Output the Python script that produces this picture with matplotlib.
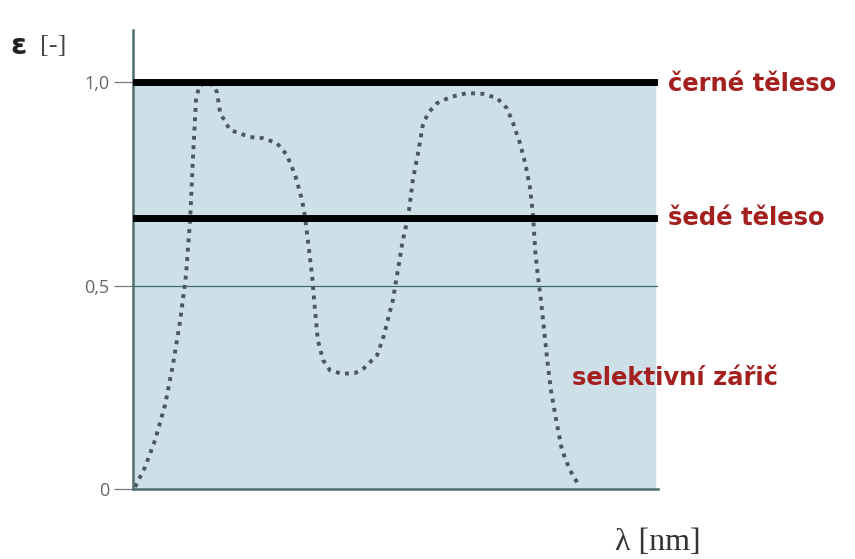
import matplotlib
matplotlib.use("Agg")
import matplotlib.pyplot as plt

# selective emitter curve (lambda in arbitrary units, epsilon)
lam = [0.4, 2.3, 4.2, 6.1, 7.6, 9.0, 10.1, 10.9, 11.4, 12.0, 12.6, 14.1, 15.4,
       16.0, 16.6, 18.5, 22.3, 24.8, 27.4, 29.3, 30.9, 32.2, 32.8,
       34.1, 34.5, 35.2, 36.2, 37.5, 39.8, 42.3, 44.0, 46.5, 47.8, 49.5, 50.3,
       51.4, 52.4, 53.3, 54.3, 55.2, 56.2, 57.9, 60.4, 63.6, 66.7, 69.3, 71.2,
       72.4, 73.7, 74.7, 75.6, 76.2, 76.6, 77.1, 77.7, 78.3, 78.9, 79.6, 80.6,
       81.7, 83.2, 85.1]
eps = [0.005, 0.054, 0.120, 0.206, 0.305, 0.415, 0.526, 0.666, 0.808, 0.956, 0.99, 1.0, 0.99,
       0.975, 0.924, 0.882, 0.865, 0.862, 0.850, 0.821, 0.771, 0.710, 0.666,
       0.526, 0.464, 0.366, 0.317, 0.292, 0.283, 0.285, 0.297, 0.329, 0.378, 0.464, 0.526,
       0.612, 0.668, 0.759, 0.826, 0.894, 0.924, 0.948, 0.963, 0.973, 0.971, 0.961, 0.936,
       0.899, 0.850, 0.801, 0.742, 0.673, 0.587, 0.526, 0.464, 0.391, 0.317, 0.243, 0.170,
       0.096, 0.047, 0.005]

black_eps = 1.0
grey_eps = 0.666
yticks = [0, 0.5, 1.0]
ylabels = ["0", "0,5", "1,0"]

fig = plt.figure(figsize=(8.55, 5.59), dpi=100)
ax = fig.add_axes([133 / 855, 70 / 559, 525 / 855, 459 / 559])
ax.set_xlim(0, 100)
ax.set_ylim(0, 1.128)

ax.axhspan(0, black_eps, xmax=0.994, color="#cde0e8", zorder=0)
ax.axhline(0.5, color="#3f6a72", lw=0.9, zorder=1)
ax.plot(lam, eps, color="#4c5663", lw=2.8, linestyle=(0, (1.0, 1.4)), zorder=2)
ax.axhline(black_eps, color="black", lw=5, solid_capstyle="round", zorder=3)
ax.axhline(grey_eps, color="black", lw=5, solid_capstyle="round", zorder=3)

for s in ["top", "right"]:
    ax.spines[s].set_visible(False)
for s in ["left", "bottom"]:
    ax.spines[s].set_color("#4f6d72")
    ax.spines[s].set_linewidth(1.8)

ax.set_xticks([])
ax.set_yticks(yticks)
ax.set_yticklabels(ylabels, fontsize=13, color="#666666", family="Open Sans")
ax.tick_params(axis="y", length=14, width=0.9, color="#777777", pad=3)

red = "#a3201f"
lab = dict(fontsize=17.5, fontweight="bold", color=red, va="center", ha="left",
           family="DejaVu Sans")
fig.text(668 / 855, 1 - 84 / 559, "černé těleso", **lab)
fig.text(668 / 855, 1 - 218 / 559, "šedé těleso", **lab)
fig.text(572 / 855, 1 - 378 / 559, "selektivní zářič", **lab)

fig.text(10 / 855, 1 - 46 / 559, "ε", fontsize=21, fontweight="bold",
         color="#222222", va="center", ha="left", family="DejaVu Sans")
fig.text(40 / 855, 1 - 46 / 559, "[-]", fontsize=19,
         color="#444444", va="center", ha="left", family="Liberation Serif")
fig.text(615 / 855, 1 - 543 / 559, "λ [nm]", fontsize=23,
         color="#333333", va="center", ha="left", family="Liberation Serif")

fig.savefig("out.png", dpi=100)
